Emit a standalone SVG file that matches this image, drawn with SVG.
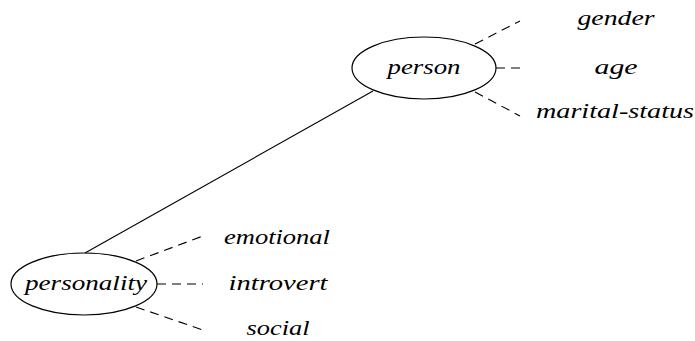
<svg xmlns="http://www.w3.org/2000/svg" width="695" height="341" viewBox="0 0 695 341">
  <style>
    .node { fill: none; stroke: #000; stroke-width: 1.2; }
    .edge { stroke: #000; stroke-width: 1.1; fill: none; }
    .attr { stroke-dasharray: 9 6; }
    .lbl { font-family: 'Liberation Serif', 'DejaVu Serif', 'Times New Roman', serif; font-style: italic; font-size: 21px; fill: #000; text-anchor: middle; }
  </style>
  <rect width="695" height="341" fill="#fff"/>

  <!-- connectors -->
  <g id="connectors">
    <line class="edge" x1="85" y1="253" x2="373" y2="91"/>
    <line class="edge attr" x1="475" y1="44" x2="520" y2="21"/>
    <line class="edge attr" x1="496" y1="68" x2="520" y2="68"/>
    <line class="edge attr" x1="475" y1="92" x2="520" y2="116"/>
    <line class="edge attr" x1="136" y1="261" x2="203" y2="236"/>
    <line class="edge attr" x1="157" y1="284" x2="203" y2="284"/>
    <line class="edge attr" x1="136" y1="307" x2="203" y2="330"/>
  </g>

  <!-- entity nodes -->
  <g id="person">
    <ellipse class="node" cx="424" cy="68" rx="72" ry="31"/>
    <text class="lbl" x="424" y="74" textLength="73" lengthAdjust="spacingAndGlyphs">person</text>
  </g>
  <g id="personality">
    <ellipse class="node" cx="84" cy="284" rx="73" ry="31"/>
    <text class="lbl" x="86" y="290" textLength="122" lengthAdjust="spacingAndGlyphs">personality</text>
  </g>

  <!-- attribute labels -->
  <g id="gender"><text class="lbl" x="616" y="25" textLength="77" lengthAdjust="spacingAndGlyphs">gender</text></g>
  <g id="age"><text class="lbl" x="616" y="74" textLength="43" lengthAdjust="spacingAndGlyphs">age</text></g>
  <g id="marital-status"><text class="lbl" x="615" y="118" textLength="158" lengthAdjust="spacingAndGlyphs">marital-status</text></g>
  <g id="emotional"><text class="lbl" x="277" y="244" textLength="106" lengthAdjust="spacingAndGlyphs">emotional</text></g>
  <g id="introvert"><text class="lbl" x="278" y="290" textLength="99" lengthAdjust="spacingAndGlyphs">introvert</text></g>
  <g id="social"><text class="lbl" x="278" y="335" textLength="63" lengthAdjust="spacingAndGlyphs">social</text></g>
</svg>
